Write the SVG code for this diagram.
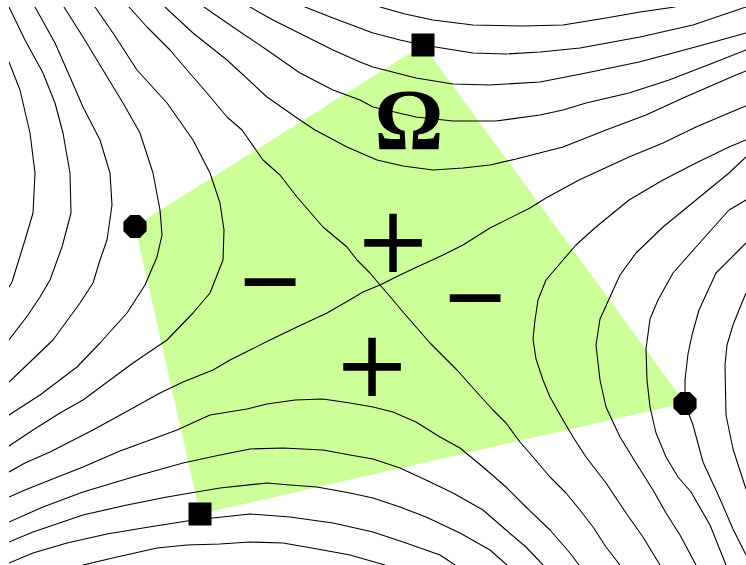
<svg xmlns="http://www.w3.org/2000/svg" xmlns:xlink="http://www.w3.org/1999/xlink" width="746" height="565" viewBox="0 0 746 565">
<style>
.c{fill:none;stroke:#000;stroke-width:1.1;stroke-linejoin:round;stroke-linecap:round}
.om{font-family:"Liberation Serif","Times New Roman",serif;fill:#000;text-anchor:middle;font-weight:bold;font-size:86px}
.sym{font-family:"DejaVu Sans",sans-serif;fill:#000;text-anchor:middle;font-size:92px}
</style>
<defs>
<clipPath id="plot"><rect x="9" y="7" width="737" height="558"/></clipPath>
<polygon id="oct" points="-4.8,-11.6 4.8,-11.6 11.6,-4.8 11.6,4.8 4.8,11.6 -4.8,11.6 -11.6,4.8 -11.6,-4.8" fill="#000"/>
<rect id="sq" x="-11.5" y="-11.5" width="23" height="23" fill="#000"/>
</defs>
<rect width="746" height="565" fill="#fff"/>
<g id="domain">
<polygon points="423,45 135,226 200,514 685,403" fill="#ccff99"/>
</g>
<g id="contours" clip-path="url(#plot)">
<path class="c" d="M9,62 L20,90 L30,133 L35,173 L33,213 L25,240 L12,282 L9,287"/>
<path class="c" d="M9,7 L25,40 L43,73 L55,103 L63,133 L70,173 L71,213 L62,247 L50,280 L40,297 L28,315 L9,340"/>
<path class="c" d="M35,7 L55,43 L70,77 L83,107 L100,140 L110,173 L112,205 L107,240 L100,260 L93,283 L80,303 L53,340 L30,362 L9,382"/>
<path class="c" d="M64,7 L83,37 L103,70 L123,103 L140,133 L153,173 L160,210 L162,235 L157,257 L145,285 L127,313 L100,343 L77,367 L40,395 L9,415"/>
<path class="c" d="M95,7 L113,33 L137,70 L167,103 L193,140 L210,173 L220,203 L224,230 L223,260 L210,293 L193,313 L167,340 L133,363 L83,400 L60,413 L33,430 L9,446"/>
<path class="c" d="M129,7 L147,27 L170,50 L187,70 L207,93 L227,117 L242,130 L263,160 L280,175 L297,197 L323,227 L347,247 L357,260 L370,273 L380,285 L393,300 L403,312 L430,343 L457,370 L473,388 L493,410 L506,423 L520,442 L533,457 L550,477 L566,493 L580,510 L593,527 L606,547 L620,565"/>
<path class="c" d="M9,472 L25,463 L50,452 L93,430 L133,408 L160,393 L183,382 L213,370 L230,360 L250,350 L270,340 L297,327 L327,313 L353,298 L363,292 L380,285 L400,275 L417,267 L443,255 L463,245 L490,228 L530,208 L546,198 L579,180 L629,157 L663,143 L696,127 L736,110 L746,106"/>
<path class="c" d="M380,7 L405,14 L433,20 L473,25 L523,26 L563,25 L606,18 L640,12 L675,7"/>
<path class="c" d="M305,7 L333,18 L373,33 L400,40 L423,45 L473,53 L506,54 L540,52 L580,48 L640,37 L693,25 L746,7"/>
<path class="c" d="M250,7 L273,20 L307,37 L333,50 L360,62 L373,67 L416,78 L453,84 L490,85 L540,82 L586,73 L639,62 L673,53 L710,43 L746,33"/>
<path class="c" d="M204,7 L233,27 L267,50 L300,73 L333,90 L360,100 L373,107 L416,117 L453,121 L496,121 L540,115 L563,110 L586,103 L629,93 L669,80 L713,63 L746,50"/>
<path class="c" d="M165,7 L193,33 L227,60 L267,97 L300,120 L315,130 L347,147 L377,160 L403,166 L433,170 L463,168 L490,165 L516,159 L563,147 L606,130 L646,115 L683,98 L736,75 L746,71"/>
<path class="c" d="M746,140 L729,147 L696,163 L663,180 L629,200 L596,227 L576,245 L563,260 L546,280 L538,300 L535,320 L533,339 L536,359 L543,380 L550,397 L563,420 L573,437 L586,457 L606,483 L626,513 L643,537 L660,565"/>
<path class="c" d="M746,157 L729,173 L696,200 L663,227 L636,253 L620,275 L610,297 L600,319 L596,345 L600,380 L606,407 L620,437 L636,463 L653,490 L666,513 L680,535 L696,565"/>
<path class="c" d="M746,200 L729,210 L696,247 L673,273 L658,300 L650,319 L646,349 L647,380 L650,407 L656,433 L666,457 L678,477 L691,492 L710,525 L726,565"/>
<path class="c" d="M746,243 L736,253 L716,273 L699,310 L692,335 L688,354 L685,380 L685,404 L693,425 L703,462 L720,499 L733,529 L746,555"/>
<path class="c" d="M746,293 L739,310 L733,325 L727,345 L725,365 L726,415 L733,449 L746,489"/>
<path class="c" d="M9,497 L25,490 L50,480 L83,467 L120,451 L150,440 L177,430 L210,415 L247,409 L267,404 L295,400 L323,399 L350,403 L373,407 L393,412 L416,422 L440,437 L460,448 L483,467 L506,487 L526,507 L550,530 L570,553 L579,565"/>
<path class="c" d="M9,522 L43,507 L83,492 L133,477 L183,463 L220,455 L250,449 L283,448 L323,450 L350,455 L373,459 L400,468 L426,480 L453,493 L483,510 L506,530 L526,547 L543,565"/>
<path class="c" d="M9,542 L33,532 L83,515 L127,505 L167,497 L220,488 L267,483 L290,485 L317,487 L350,493 L373,498 L400,507 L426,517 L460,533 L490,550 L507,565"/>
<path class="c" d="M9,563 L33,553 L67,543 L107,534 L143,528 L187,521 L213,518 L250,514 L290,517 L333,523 L373,532 L406,543 L440,555 L455,565"/>
<path class="c" d="M83,565 L117,557 L157,548 L187,545 L220,544 L250,542 L283,543 L323,550 L350,555 L385,565"/>
</g>
<g id="vertex-top"><use xlink:href="#sq" href="#sq" x="423" y="45"/></g>
<g id="vertex-left"><use xlink:href="#oct" href="#oct" x="135" y="226.5"/></g>
<g id="vertex-bottom"><use xlink:href="#sq" href="#sq" x="200" y="514"/></g>
<g id="vertex-right"><use xlink:href="#oct" href="#oct" x="685" y="403.5"/></g>
<g id="labels">
<text class="om" x="409" y="149">Ω</text>
<text class="sym" x="393" y="272">+</text>
<text class="sym" x="372" y="396">+</text>
<text class="sym" x="270" y="311" textLength="68" lengthAdjust="spacingAndGlyphs">−</text>
<text class="sym" x="475" y="327" textLength="68" lengthAdjust="spacingAndGlyphs">−</text>
</g>
</svg>
